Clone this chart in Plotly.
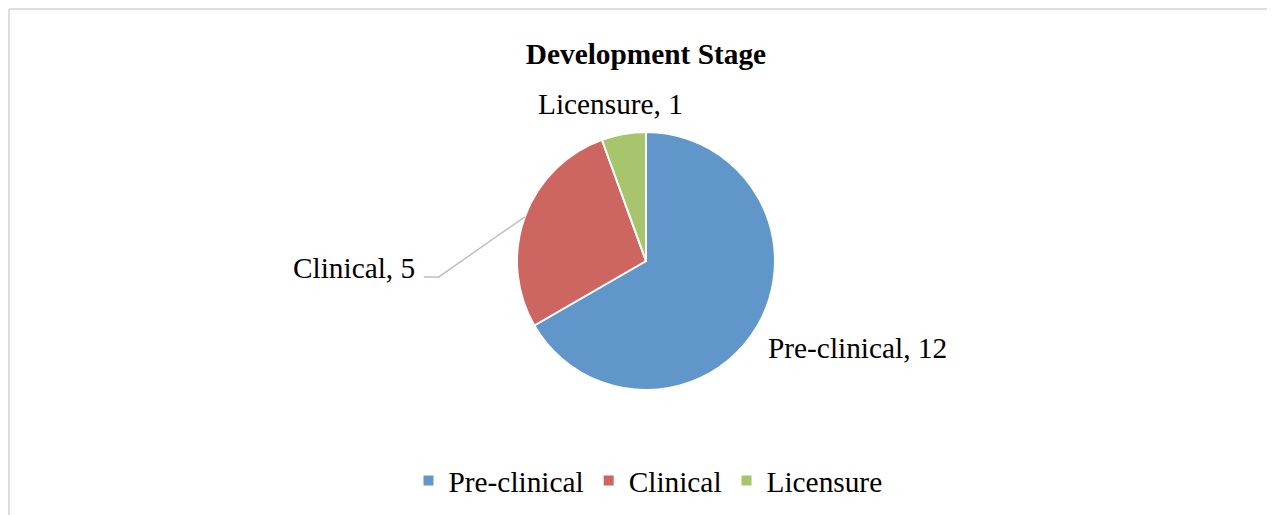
import math
import plotly.graph_objects as go

# ---- data ----
stages = ["Pre-clinical", "Clinical", "Licensure"]
counts = [12, 5, 1]
colors = ["#6096CA", "#CD6660", "#A8C46C"]
title_text = "Development Stage"

W, H = 1275, 515
OFF = 8  # page body margin of the rendered html
FONT = "Liberation Serif, Times New Roman, serif"
FS = 29.33

def px(x):
    return (x - OFF) / W

def py(y):
    return 1 - (y - OFF) / H

# pie geometry (page pixels)
CX, CY, R = 646, 261, 129

fig = go.Figure()
fig.add_trace(go.Pie(
    labels=stages,
    values=counts,
    sort=False,
    direction="clockwise",
    rotation=0,
    marker=dict(colors=colors, line=dict(color="white", width=2)),
    textinfo="none",
    hoverinfo="label+value",
    domain=dict(x=[px(CX - R), px(CX + R)], y=[py(CY + R), py(CY - R)]),
    showlegend=True,
))

# slice mid-angles (clockwise from 12 o'clock) to anchor the data labels
total = sum(counts)
mids = []
acc = 0
for v in counts:
    mids.append((acc + v / 2) / total * 360)
    acc += v

def edge(angle_deg, r=R):
    a = math.radians(angle_deg)
    return CX + r * math.sin(a), CY - r * math.cos(a)

label_font = dict(family=FONT, size=FS, color="#000000")
annotations = []
shapes = []

# Pre-clinical label: right/below the slice
ex, ey = edge(mids[0])
annotations.append(dict(x=px(ex + 8), y=py(ey + 22), xref="paper", yref="paper",
                        text=f"{stages[0]}, {counts[0]}", showarrow=False,
                        xanchor="left", yanchor="middle", font=label_font))
# Clinical label with leader line
ex, ey = edge(mids[1])
lx, ly = ex - 86, ey + 60
annotations.append(dict(x=px(lx - 22), y=py(ly - 9), xref="paper", yref="paper",
                        text=f"{stages[1]}, {counts[1]}", showarrow=False,
                        xanchor="right", yanchor="middle", font=label_font))
shapes.append(dict(type="path", xref="paper", yref="paper",
                   path=f"M {px(lx-15)},{py(ly)} L {px(lx)},{py(ly)} L {px(ex)},{py(ey)}",
                   line=dict(color="#BFBFBF", width=1.5)))
# Licensure label above its slice
ex, ey = edge(mids[2])
annotations.append(dict(x=px(ex - 13), y=py(ey - 30), xref="paper", yref="paper",
                        text=f"{stages[2]}, {counts[2]}", showarrow=False,
                        xanchor="center", yanchor="middle", font=label_font))

# chart frame (panel borders)
frame = "#DEDEDE"
shapes += [
    dict(type="line", xref="paper", yref="paper", x0=px(9), x1=px(1290), y0=py(9), y1=py(9),
         line=dict(color=frame, width=2)),
    dict(type="line", xref="paper", yref="paper", x0=px(9), x1=px(9), y0=py(9), y1=py(530),
         line=dict(color=frame, width=2)),
]

fig.update_layout(
    width=W, height=H,
    margin=dict(l=0, r=0, t=0, b=0),
    paper_bgcolor="white",
    plot_bgcolor="white",
    font=dict(family=FONT, color="#000000"),
    title=dict(text=f"<b>{title_text}</b>", x=px(646), y=py(54), xanchor="center",
               yanchor="middle", font=dict(family=FONT, size=FS, color="#000000")),
    legend=dict(orientation="h", x=px(648), y=py(481), xanchor="center", yanchor="middle",
                font=dict(family=FONT, size=FS, color="#000000"),
                itemwidth=30, bgcolor="rgba(0,0,0,0)"),
    annotations=annotations,
    shapes=shapes,
)

fig.write_html("out.html")
